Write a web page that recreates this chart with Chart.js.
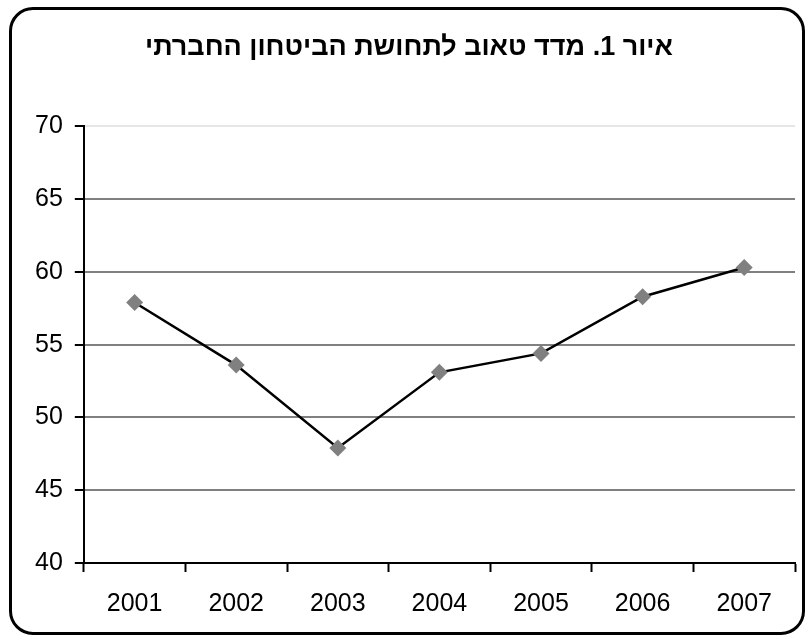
<!DOCTYPE html>
<html lang="he">
<head>
  <meta charset="UTF-8" />
  <script src="https://cdn.jsdelivr.net/npm/chart.js"></script>
  <style>
    html, body { margin: 0; padding: 0; background: #fff; }
    #wrap { position: relative; width: 811px; height: 639px; }
    #frame {
      position: absolute; left: 9px; top: 7px; width: 796px; height: 628px;
      border: 3px solid #000; border-radius: 24px; box-sizing: border-box;
    }
    #taubChart { position: absolute; left: 0; top: 0; }
  </style>
</head>
<body>
  <div id="wrap">
    <div id="frame"></div>
    <canvas id="taubChart" width="811" height="639"></canvas>
  </div>

  <script>
    const years = ['2001', '2002', '2003', '2004', '2005', '2006', '2007'];
    const indexValues = [57.9, 53.6, 47.9, 53.1, 54.4, 58.3, 60.3];
    const yTicks = [40, 45, 50, 55, 60, 65, 70];
    const chartTitle = 'איור 1. מדד טאוב לתחושת הביטחון החברתי';

    const font = "'Liberation Sans', Arial, sans-serif";

    const ctx = document.getElementById('taubChart').getContext('2d');
    new Chart(ctx, {
      type: 'line',
      data: {
        labels: years,
        datasets: [{
          data: indexValues,
          borderColor: '#000',
          borderWidth: 2.5,
          pointStyle: 'rectRot',
          pointRadius: 8.5,
          pointHoverRadius: 8.5,
          pointBackgroundColor: '#808080',
          pointBorderColor: '#808080',
          pointBorderWidth: 0,
          tension: 0,
        }],
      },
      options: {
        responsive: false,
        animation: false,
        layout: { padding: { left: 23, right: 16, top: 0, bottom: 3 } },
        plugins: {
          legend: { display: false },
          tooltip: { enabled: false },
          title: {
            display: true,
            text: chartTitle,
            color: '#000',
            font: { family: font, size: 27, weight: 'bold' },
            padding: { top: 31, bottom: 63 },
          },
        },
        scales: {
          x: {
            offset: true,
            grid: {
              offset: true,
              drawOnChartArea: false,
              tickColor: '#000',
              tickLength: 9,
              tickWidth: 2,
            },
            border: { color: '#000', width: 2 },
            ticks: {
              color: '#000',
              padding: 17,
              font: { family: font, size: 25 },
            },
          },
          y: {
            min: 40,
            max: 70,
            afterBuildTicks: axis => { axis.ticks = yTicks.map(v => ({ value: v })); },
            grid: {
              color: c => (c.tick && c.tick.value === 70 ? '#e6e6e6' : '#808080'),
              lineWidth: 2,
              tickColor: '#000',
              tickLength: 9,
              tickWidth: 2,
            },
            border: { color: '#000', width: 2 },
            ticks: {
              color: '#000',
              padding: 12,
              font: { family: font, size: 25 },
            },
          },
        },
      },
    });
  </script>
</body>
</html>
